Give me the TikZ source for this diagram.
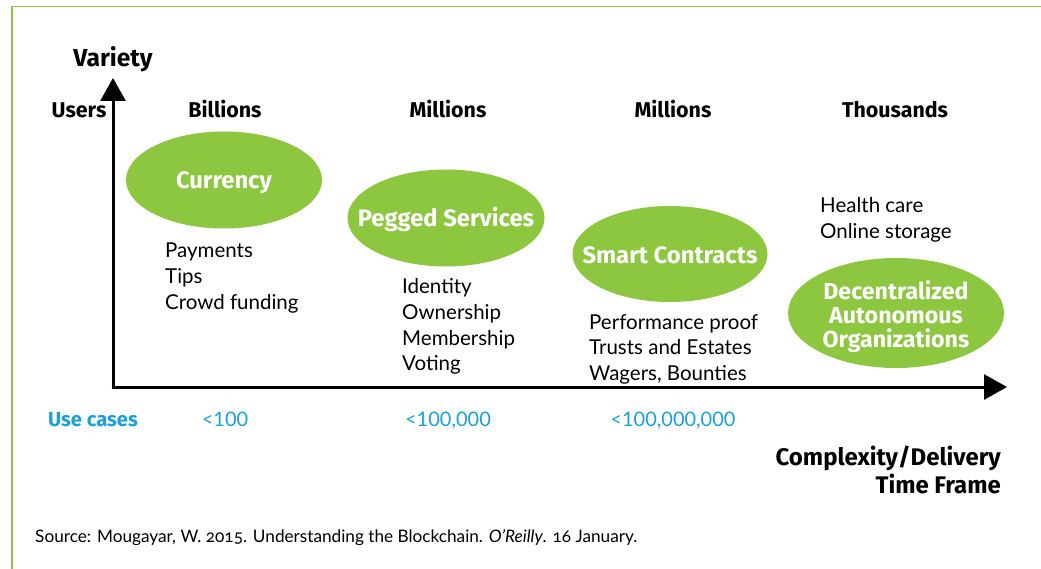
\documentclass[tikz,border=0pt]{standalone}
\usepackage{fontspec}
\setmainfont{Lato}
\newfontfamily\heavy{Fira Sans}
\usetikzlibrary{shapes.geometric,arrows.meta}
\definecolor{leaf}{HTML}{8DC63F}
\definecolor{sky}{HTML}{1BA1D9}
\tikzset{
  bubble/.style={ellipse, fill=leaf, draw=none, inner sep=0pt},
  bubbletext/.style={text=white, font=\heavy\bfseries\fontsize{23.8}{24}\selectfont, align=center, inner sep=0pt},
  head/.style={font=\heavy\bfseries\fontsize{21.4}{24}\selectfont, anchor=base},
  item/.style={font=\fontsize{20.5}{24}\selectfont, anchor=base west, inner sep=0pt},
  usecase/.style={font=\fontsize{20}{24}\selectfont, text=sky, anchor=base, inner sep=0pt},
  axis/.style={line width=3pt, -{Triangle[width=25pt,length=23pt]}},
}
\begin{document}
\begin{tikzpicture}[x=1pt,y=-1pt]
\useasboundingbox (0,0) rectangle (1041,569);
% frame
\draw[leaf, line width=1.5pt] (12,569) -- (12,6.5) -- (1041,6.5);
% axes
\coordinate (o) at (113,387);
\coordinate (ytip) at (113,78);
\coordinate (xtip) at (1007,387);
\draw[axis] (o) -- (ytip);
\draw[axis] ([xshift=-1.5pt]o) -- (xtip);
% axis labels
\node[head, font=\heavy\bfseries\fontsize{24.6}{24}\selectfont] (variety) at (113,67) {Variety};
\node[head] (users) at (79,118) {Users};
\node[head] (h1) at (225,118) {Billions};
\node[head] (h2) at (448,118) {Millions};
\node[head] (h3) at (673,118) {Millions};
\node[head] (h4) at (895,118) {Thousands};
% bubbles
\node[bubble, minimum width=196pt, minimum height=97pt] (cur) at (224,180) {};
\node[bubbletext] (curt) at ([yshift=-3pt]cur.center) {Currency};
\node[bubble, minimum width=197pt, minimum height=97pt] (peg) at (446,218) {};
\node[bubbletext] (pegt) at ([yshift=-1pt]peg.center) {Pegged Services};
\node[bubble, minimum width=195pt, minimum height=96pt] (sc) at (670,254) {};
\node[bubbletext] (sct) at ([yshift=-1pt]sc.center) {Smart Contracts};
\node[bubble, minimum width=216pt, minimum height=110pt] (dao) at (896,313) {};
\node[bubbletext, font=\heavy\bfseries\fontsize{23.2}{24}\selectfont] (daot) at ([yshift=-3.5pt]dao.center) {Decentralized\\Autonomous\\Organizations};
% items
\node[item] (a1) at (165,258) {Payments};
\node[item] (a2) at (165,283.5) {Tips};
\node[item] (a3) at (165,309) {Crowd funding};
\node[item] (b1) at (402,294) {Identity};
\node[item] (b2) at (402,319.5) {Ownership};
\node[item] (b3) at (402,345) {Membership};
\node[item] (b4) at (402,370.5) {Voting};
\node[item] (c1) at (589,329) {Performance proof};
\node[item] (c2) at (589,354.5) {Trusts and Estates};
\node[item] (c3) at (589,380) {Wagers, Bounties};
\node[item] (d1) at (820,213) {Health care};
\node[item] (d2) at (820,238.5) {Online storage};
% use cases
\node[font=\heavy\bfseries\fontsize{20.2}{24}\selectfont, text=sky, anchor=base] (uc) at (93,426) {Use cases};
\node[usecase] (u1) at (225,426) {<100};
\node[usecase] (u2) at (448,426) {<100,000};
\node[usecase] (u3) at (673,426) {<100,000,000};
% x label
\node[font=\heavy\bfseries\fontsize{24}{28.5}\selectfont, align=right, anchor=north east, inner sep=0pt] (xl) at (1001,445.5) {Complexity/Delivery\\Time Frame};
% source
\node[font=\fontsize{17.2}{20}\selectfont\addfontfeatures{Numbers=OldStyle}, anchor=base west, inner sep=0pt] (src) at (35,542) {Source: Mougayar, W. 2015. Understanding the Blockchain. \textit{O'Reilly}. 16 January.};
\end{tikzpicture}
\end{document}
